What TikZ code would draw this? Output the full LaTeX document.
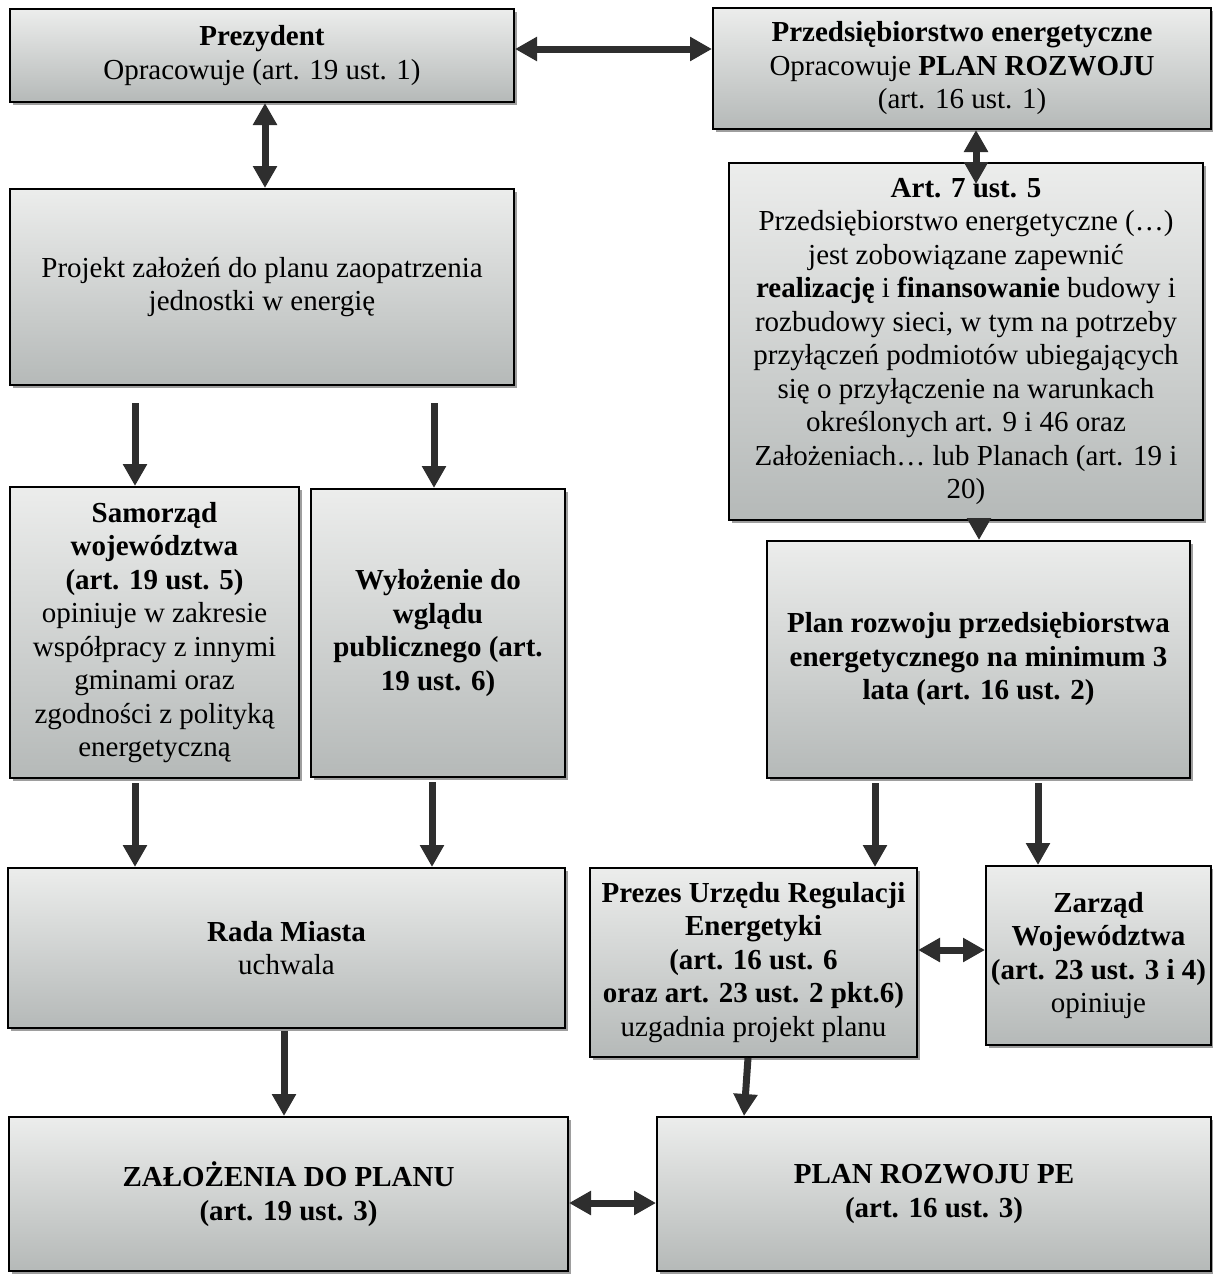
\documentclass[tikz,border=0pt]{standalone}
\usepackage{fontspec}
\setmainfont{Liberation Serif}
\usetikzlibrary{arrows.meta,shadows}
\definecolor{jasny}{HTML}{ECEDEC}
\definecolor{ciemny}{HTML}{B5B9B8}
\definecolor{strzal}{HTML}{2E2E2E}
\begin{document}
\begin{tikzpicture}[x=0.5pt,y=-0.5pt,>={Triangle[length=11pt,width=11.5pt]},
	pole/.style={draw=black,line width=1pt,top color=jasny,bottom color=ciemny,
		drop shadow={shadow xshift=1.5pt,shadow yshift=-1.5pt,fill=black!38,opacity=1},
		align=center,inner sep=2pt,font=\fontsize{14.5}{16.75}\selectfont},
	dol/.style={->,line width=3.5pt,draw=strzal},
	oba/.style={<->,line width=3.5pt,draw=strzal}]
	\useasboundingbox (0,0) rectangle (1213,1274);
	\node[pole,minimum width=252pt,minimum height=46.5pt] (prez) at (262,55.5) {\textbf{Prezydent}\\Opracowuje (art. 19 ust. 1)};
	\node[pole,minimum width=249pt,minimum height=60.5pt] (przed) at (962,68.5) {\textbf{Przedsiębiorstwo energetyczne}\\Opracowuje \textbf{PLAN ROZWOJU}\\(art. 16 ust. 1)};
	\node[pole,minimum width=252pt,minimum height=98pt] (proj) at (262,287) {Projekt założeń do planu zaopatrzenia\\jednostki w energię};
	\node[pole,minimum width=237pt,minimum height=178.5pt] (art) at (966,341.5) {\textbf{Art. 7 ust. 5}\\Przedsiębiorstwo energetyczne (…)\\jest zobowiązane zapewnić\\\textbf{realizację} i \textbf{finansowanie} budowy i\\rozbudowy sieci, w tym na potrzeby\\przyłączeń podmiotów ubiegających\\się o przyłączenie na warunkach\\określonych art. 9 i 46 oraz\\Założeniach… lub Planach (art. 19 i\\20)};
	\node[pole,minimum width=144.5pt,minimum height=145.5pt] (samo) at (154.5,632.5) {\textbf{Samorząd}\\\textbf{województwa}\\\textbf{(art. 19 ust. 5)}\\opiniuje w zakresie\\współpracy z innymi\\gminami oraz\\zgodności z polityką\\energetyczną};
	\node[pole,minimum width=127pt,minimum height=144pt] (wylo) at (438,633) {\textbf{Wyłożenie do}\\\textbf{wglądu}\\\textbf{publicznego (art.}\\\textbf{19 ust. 6)}};
	\node[pole,minimum width=211.5pt,minimum height=118.5pt] (plan) at (978.5,659.5) {\textbf{Plan rozwoju przedsiębiorstwa}\\\textbf{energetycznego na minimum 3}\\\textbf{lata (art. 16 ust. 2)}};
	\node[pole,minimum width=278.5pt,minimum height=80pt] (rada) at (286.5,948) {\textbf{Rada Miasta}\\uchwala};
	\node[pole,minimum width=163.5pt,minimum height=94.5pt] (prezes) at (753.5,962.5) {\textbf{Prezes Urzędu Regulacji}\\\textbf{Energetyki}\\\textbf{(art. 16 ust. 6}\\\textbf{oraz art. 23 ust. 2 pkt.6)}\\uzgadnia projekt planu};
	\node[pole,minimum width=112.5pt,minimum height=89.5pt] (zarz) at (1098.5,955.5) {\textbf{Zarząd}\\\textbf{Województwa}\\\textbf{(art. 23 ust. 3 i 4)}\\opiniuje};
	\node[pole,minimum width=279.5pt,minimum height=77pt] (zal) at (288.5,1194) {\textbf{ZAŁOŻENIA DO PLANU}\\\textbf{(art. 19 ust. 3)}};
	\node[pole,minimum width=277pt,minimum height=77pt] (planpe) at (934,1194) {\textbf{PLAN ROZWOJU PE}\\\textbf{(art. 16 ust. 3)}};
	\draw[oba] (prez.east |- 0,49) -- (przed.west |- 0,49);
	\draw[oba] (265,0 |- prez.south) -- (265,0 |- proj.north);
	\draw[oba,shorten >=-11pt] (976,0 |- przed.south) -- (976,0 |- art.north);
	\draw[dol,shorten <=-1.5pt] (979,0 |- art.south) -- (979,0 |- plan.north);
	\foreach \x/\a/\b/\s in {135/proj/samo/8.5,434/proj/wylo/8.5,135/samo/rada/2,432/wylo/rada/2,875/plan/prezes/2,1038/plan/zarz/2}
		\draw[dol,shorten <=\s pt] (\x,0 |- \a.south) -- (\x,0 |- \b.north);
	\draw[oba] (prezes.east |- 0,950) -- (zarz.west |- 0,950);
	\draw[dol,shorten <=1pt] (284,0 |- rada.south) -- (284,0 |- zal.north);
	\draw[dol] (748,0 |- prezes.south) -- (744,0 |- planpe.north);
	\draw[oba] (zal.east |- 0,1203) -- (planpe.west |- 0,1203);
\end{tikzpicture}
\end{document}
